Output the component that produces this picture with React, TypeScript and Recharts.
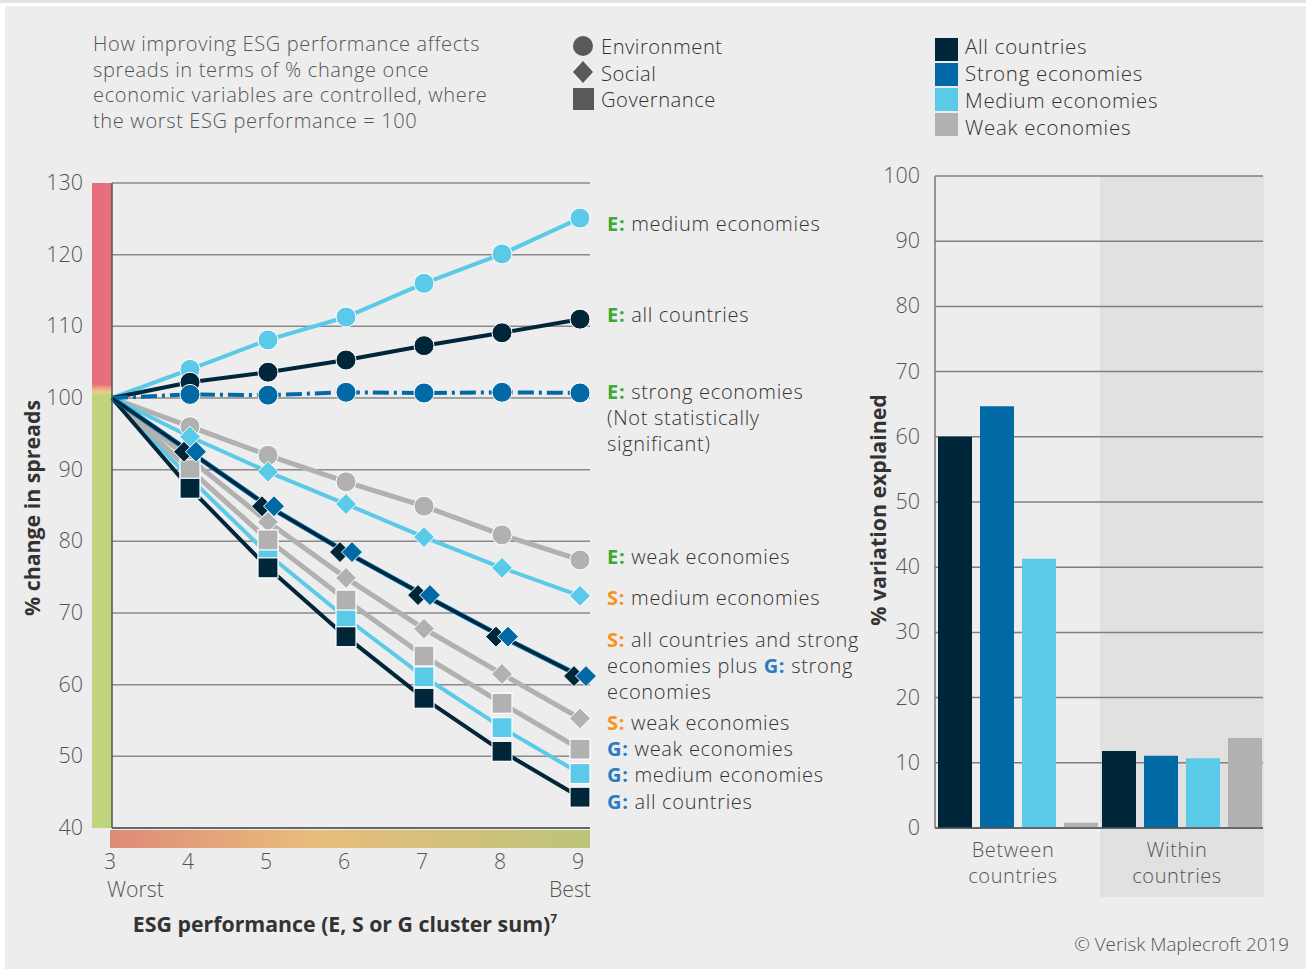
import React from "react";
import {
  LineChart,
  Line,
  XAxis,
  YAxis,
  CartesianGrid,
  BarChart,
  Bar,
} from "recharts";

// ESG score (cluster sum) on the x axis
const scores = [3, 4, 5, 6, 7, 8, 9];

// % change in spreads, worst ESG performance = 100
const envMedium = [100, 104.0, 108.1, 111.3, 116.0, 120.1, 125.1];
const envAll = [100, 102.2, 103.6, 105.3, 107.3, 109.1, 111.0];
const envStrong = [100, 100.5, 100.4, 100.8, 100.7, 100.8, 100.7];
const envWeak = [100, 96.0, 92.0, 88.3, 84.9, 80.9, 77.4];
const socMedium = [100, 94.6, 89.7, 85.2, 80.6, 76.3, 72.4];
const socAll = [100, 92.5, 84.9, 78.5, 72.5, 66.7, 61.2];
const socStrong = [100, 92.5, 84.9, 78.5, 72.5, 66.7, 61.2];
const socWeak = [100, 91.5, 82.7, 74.9, 67.8, 61.5, 55.3];
const govWeak = [100, 90.0, 80.2, 71.8, 64.0, 57.4, 51.0];
const govMedium = [100, 88.8, 78.2, 69.3, 61.1, 54.0, 47.6];
const govAll = [100, 87.4, 76.3, 66.7, 58.1, 50.7, 44.3];

const spreadTicks = [40, 50, 60, 70, 80, 90, 100, 110, 120, 130];

// % variation explained
const groups = ["Between countries", "Within countries"];
const allCountries = [60.0, 11.8];
const strongEconomies = [64.7, 11.1];
const mediumEconomies = [41.3, 10.7];
const weakEconomies = [0.8, 13.8];

const variationTicks = [0, 10, 20, 30, 40, 50, 60, 70, 80, 90, 100];

const NAVY = "#00263A";
const BLUE = "#0069A6";
const LIGHT = "#5BC9E8";
const GREY = "#B1B1B1";
const GREEN = "#3AAA35";
const ORANGE = "#F7941D";
const GBLUE = "#2B7BC0";
const FONT = '"Open Sans", "Noto Sans", sans-serif';
const FS = 21.3;

const lineData = scores.map((x, i) => ({
  x,
  envMedium: envMedium[i],
  envAll: envAll[i],
  envStrong: envStrong[i],
  envWeak: envWeak[i],
  socMedium: socMedium[i],
  socAll: socAll[i],
  socStrong: socStrong[i],
  socWeak: socWeak[i],
  govWeak: govWeak[i],
  govMedium: govMedium[i],
  govAll: govAll[i],
}));

const barData = groups.map((g, i) => ({
  group: g,
  all: allCountries[i],
  strong: strongEconomies[i],
  medium: mediumEconomies[i],
  weak: weakEconomies[i],
}));

// marker renderers (no marker at the starting point)
const circleDot = (color: string) => (p: any) => {
  const k = `c-${color}-${p.index}`;
  if (p.index === 0) return <g key={k} />;
  return <circle key={k} cx={p.cx} cy={p.cy} r={10} fill={color} stroke="#fff" strokeWidth={1} />;
};

const diamondDot = (color: string, dx = 0) => (p: any) => {
  const k = `d-${color}-${dx}-${p.index}`;
  if (p.index === 0) return <g key={k} />;
  const x = p.cx + dx;
  const y = p.cy;
  const h = 10.5;
  return (
    <path
      key={k}
      d={`M${x},${y - h}L${x + h},${y}L${x},${y + h}L${x - h},${y}Z`}
      fill={color}
      stroke="#fff"
      strokeWidth={1}
    />
  );
};

const squareDot = (color: string) => (p: any) => {
  const k = `s-${color}-${p.index}`;
  if (p.index === 0) return <g key={k} />;
  return (
    <rect key={k} x={p.cx - 10} y={p.cy - 10} width={20} height={20} fill={color} stroke="#fff" strokeWidth={1.2} />
  );
};

const LineXTick = (p: any) => {
  const v = p.payload.value;
  return (
    <g>
      <text x={p.x - 2} y={869} textAnchor="middle" fontSize={FS} fill="#555" fontFamily={FONT} fontWeight={300}>
        {v}
      </text>
      {v === 3 && (
        <text x={p.x - 5} y={897} textAnchor="start" fontSize={FS} fill="#555" fontFamily={FONT} fontWeight={300}>
          Worst
        </text>
      )}
      {v === 9 && (
        <text x={p.x + 11} y={897} textAnchor="end" fontSize={FS} fill="#555" fontFamily={FONT} fontWeight={300}>
          Best
        </text>
      )}
    </g>
  );
};

const LeftYTick = (p: any) => (
  <text x={83} y={p.y + 7} textAnchor="end" fontSize={21.5} fill="#555" fontFamily={FONT} fontWeight={300}>
    {p.payload.value}
  </text>
);

const BarYTick = (p: any) => (
  <text x={p.x - 7} y={p.y + 7} textAnchor="end" fontSize={21.5} fill="#555" fontFamily={FONT} fontWeight={300}>
    {p.payload.value}
  </text>
);

const BarXTick = (p: any) => {
  const [a, b] = String(p.payload.value).split(" ");
  return (
    <g>
      <text
        x={p.x - 4}
        y={857}
        textAnchor="middle"
        fontSize={20}
        letterSpacing={0.6}
        fill="#555"
        fontFamily={FONT}
        fontWeight={300}
      >
        {a}
      </text>
      <text
        x={p.x - 4}
        y={883}
        textAnchor="middle"
        fontSize={20}
        letterSpacing={0.6}
        fill="#555"
        fontFamily={FONT}
        fontWeight={300}
      >
        {b}
      </text>
    </g>
  );
};

const Note = ({ top, children }: { top: number; children: React.ReactNode }) => (
  <div
    style={{
      position: "absolute",
      left: 607,
      top: top - 13,
      fontSize: 20,
      letterSpacing: 0.7,
      lineHeight: "26px",
      color: "#333",
      fontFamily: FONT,
      fontWeight: 300,
      whiteSpace: "nowrap",
    }}
  >
    {children}
  </div>
);

const Tag = ({ c, t }: { c: string; t: string }) => (
  <span style={{ color: c, fontWeight: 700 }}>{t}</span>
);

export default function App() {
  return (
    <div
      style={{
        position: "absolute",
        left: 0,
        top: 0,
        width: 1306,
        height: 969,
        background: "#fff",
        fontFamily: FONT,
        overflow: "hidden",
      }}
    >
      <div style={{ position: "absolute", left: 0, top: 0, width: 1306, height: 3, background: "#E3E3E5" }} />
      <div style={{ position: "absolute", left: 5, top: 6, width: 1301, height: 963, background: "#EDEDED" }} />

      {/* header */}
      <div
        style={{
          position: "absolute",
          left: 93,
          top: 31,
          fontSize: 20,
          letterSpacing: 0.65,
          lineHeight: "25.7px",
          color: "#555",
          fontWeight: 300,
          whiteSpace: "nowrap",
        }}
      >
        How improving ESG performance affects
        <br />
        spreads in terms of % change once
        <br />
        economic variables are controlled, where
        <br />
        the worst ESG performance = 100
      </div>

      <svg style={{ position: "absolute", left: 570, top: 32 }} width={28} height={82}>
        <circle cx={13} cy={14} r={10} fill="#58595B" />
        <path d="M13,29L23,40L13,51L3,40Z" fill="#58595B" />
        <rect x={3} y={56} width={21} height={22} fill="#58595B" />
      </svg>
      <div
        style={{
          position: "absolute",
          left: 601,
          top: 33,
          fontSize: 20.2,
          letterSpacing: 0.5,
          lineHeight: "26.5px",
          color: "#333",
          fontWeight: 300,
          whiteSpace: "nowrap",
        }}
      >
        Environment
        <br />
        Social
        <br />
        Governance
      </div>

      {[NAVY, BLUE, LIGHT, GREY].map((c, i) => (
        <div
          key={c}
          style={{ position: "absolute", left: 935, top: 38 + i * 25, width: 23, height: 23, background: c }}
        />
      ))}
      <div
        style={{
          position: "absolute",
          left: 965,
          top: 33,
          fontSize: 20.5,
          lineHeight: "27px",
          color: "#333",
          fontWeight: 300,
          whiteSpace: "nowrap",
          letterSpacing: 0.7,
        }}
      >
        All countries
        <br />
        Strong economies
        <br />
        Medium economies
        <br />
        Weak economies
      </div>

      {/* colour scales next to the axes */}
      <div
        style={{
          position: "absolute",
          left: 92,
          top: 183,
          width: 20,
          height: 645,
          background:
            "linear-gradient(to bottom, #E76E7D 0%, #E76E7D 31.2%, #F0A27D 31.8%, #EECB88 32.4%, #BFD47D 33%, #BFD47D 100%)",
        }}
      />
      <div
        style={{
          position: "absolute",
          left: 110,
          top: 830,
          width: 480,
          height: 18,
          background: "linear-gradient(to right, #DF8A78 0%, #E8BD7B 42%, #BDC47A 100%)",
        }}
      />

      {/* shaded "within" band */}
      <div style={{ position: "absolute", left: 1100, top: 176, width: 164, height: 721, background: "#E1E1E1" }} />

      {/* line chart */}
      <div style={{ position: "absolute", left: 0, top: 0 }}>
        <LineChart width={600} height={969} data={lineData} margin={{ top: 183, right: 10, bottom: 0, left: 72 }}>
          <CartesianGrid vertical={false} stroke="#8A8A8A" strokeWidth={1.5} />
          <XAxis
            dataKey="x"
            type="number"
            domain={[3, 9]}
            ticks={scores}
            padding={{ left: 0, right: 10 }}
            height={141}
            axisLine={{ stroke: "#555", strokeWidth: 1.5 }}
            tickLine={false}
            tick={<LineXTick />}
          />
          <YAxis
            type="number"
            domain={[40, 130]}
            ticks={spreadTicks}
            width={40}
            axisLine={{ stroke: "#555", strokeWidth: 1.5 }}
            tickLine={false}
            tick={<LeftYTick />}
          />
          <Line dataKey="envWeak" stroke={GREY} strokeWidth={5} dot={circleDot(GREY)} isAnimationActive={false} />
          <Line dataKey="socWeak" stroke={GREY} strokeWidth={5} dot={diamondDot(GREY)} isAnimationActive={false} />
          <Line dataKey="socMedium" stroke={LIGHT} strokeWidth={4} dot={diamondDot(LIGHT)} isAnimationActive={false} />
          <Line dataKey="envMedium" stroke={LIGHT} strokeWidth={4} dot={circleDot(LIGHT)} isAnimationActive={false} />
          <Line dataKey="envAll" stroke={NAVY} strokeWidth={4} dot={circleDot(NAVY)} isAnimationActive={false} />
          <Line
            dataKey="envStrong"
            stroke={BLUE}
            strokeWidth={4}
            strokeDasharray="16 5 3 5"
            dot={circleDot(BLUE)}
            isAnimationActive={false}
          />
          <Line dataKey="govMedium" stroke={LIGHT} strokeWidth={4} dot={squareDot(LIGHT)} isAnimationActive={false} />
          <Line dataKey="govWeak" stroke={GREY} strokeWidth={5} dot={squareDot(GREY)} isAnimationActive={false} />
          <Line dataKey="govAll" stroke={NAVY} strokeWidth={4} dot={squareDot(NAVY)} isAnimationActive={false} />
          <Line dataKey="socStrong" stroke={BLUE} strokeWidth={5} dot={false} isAnimationActive={false} />
          <Line dataKey="socAll" stroke={NAVY} strokeWidth={3} dot={diamondDot(NAVY, -6)} isAnimationActive={false} />
          <Line dataKey="socStrong" stroke="none" dot={diamondDot(BLUE, 6)} isAnimationActive={false} />
        </LineChart>
      </div>

      {/* axis titles */}
      <div
        style={{
          position: "absolute",
          left: 31,
          top: 508,
          transform: "translate(-50%, -50%) rotate(-90deg)",
          fontSize: 21.3,
          fontWeight: 700,
          color: "#333",
          whiteSpace: "nowrap",
        }}
      >
        % change in spreads
      </div>
      <div
        style={{
          position: "absolute",
          left: 345,
          top: 923,
          transform: "translate(-50%, -50%)",
          fontSize: 21.3,
          fontWeight: 700,
          color: "#333",
          whiteSpace: "nowrap",
        }}
      >
        ESG performance (E, S or G cluster sum)<sup style={{ fontSize: 12 }}>7</sup>
      </div>

      {/* series notes */}
      <Note top={224}>
        <Tag c={GREEN} t="E:" /> medium economies
      </Note>
      <Note top={315}>
        <Tag c={GREEN} t="E:" /> all countries
      </Note>
      <Note top={392}>
        <Tag c={GREEN} t="E:" /> strong economies
        <br />
        (Not statistically
        <br />
        significant)
      </Note>
      <Note top={557}>
        <Tag c={GREEN} t="E:" /> weak economies
      </Note>
      <Note top={598}>
        <Tag c={ORANGE} t="S:" /> medium economies
      </Note>
      <Note top={640}>
        <Tag c={ORANGE} t="S:" /> all countries and strong
        <br />
        economies plus <Tag c={GBLUE} t="G:" /> strong
        <br />
        economies
      </Note>
      <Note top={723}>
        <Tag c={ORANGE} t="S:" /> weak economies
      </Note>
      <Note top={749}>
        <Tag c={GBLUE} t="G:" /> weak economies
      </Note>
      <Note top={775}>
        <Tag c={GBLUE} t="G:" /> medium economies
      </Note>
      <Note top={802}>
        <Tag c={GBLUE} t="G:" /> all countries
      </Note>

      {/* bar chart */}
      <div style={{ position: "absolute", left: 860, top: 0 }}>
        <BarChart
          width={446}
          height={969}
          data={barData}
          margin={{ top: 176, right: 43, bottom: 0, left: 15 }}
          barCategoryGap={3}
          barGap={8}
        >
          <CartesianGrid vertical={false} stroke="#7F7F7F" strokeWidth={1.5} />
          <XAxis
            dataKey="group"
            height={141}
            axisLine={{ stroke: "#555", strokeWidth: 1.5 }}
            tickLine={false}
            tick={<BarXTick />}
          />
          <YAxis
            type="number"
            domain={[0, 100]}
            ticks={variationTicks}
            width={60}
            axisLine={{ stroke: "#777", strokeWidth: 1.5 }}
            tickLine={false}
            tick={<BarYTick />}
          />
          <Bar dataKey="all" fill={NAVY} isAnimationActive={false} />
          <Bar dataKey="strong" fill={BLUE} isAnimationActive={false} />
          <Bar dataKey="medium" fill={LIGHT} isAnimationActive={false} />
          <Bar dataKey="weak" fill={GREY} isAnimationActive={false} />
        </BarChart>
      </div>

      <div
        style={{
          position: "absolute",
          left: 877,
          top: 510,
          transform: "translate(-50%, -50%) rotate(-90deg)",
          fontSize: 21.3,
          fontWeight: 700,
          color: "#333",
          whiteSpace: "nowrap",
        }}
      >
        % variation explained
      </div>

      <div
        style={{
          position: "absolute",
          right: 17,
          top: 931,
          fontSize: 18.8,
          color: "#555",
          fontWeight: 300,
          whiteSpace: "nowrap",
        }}
      >
        © Verisk Maplecroft 2019
      </div>
    </div>
  );
}
